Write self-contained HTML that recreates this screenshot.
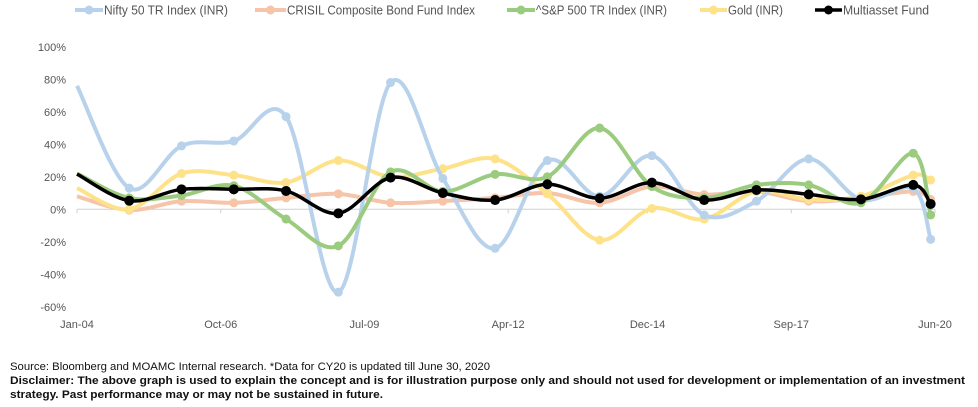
<!DOCTYPE html>
<html><head><meta charset="utf-8"><style>
body{margin:0;background:#fff;}
svg{display:block;font-family:"Liberation Sans",sans-serif;}
</style></head><body>
<svg id="chart" width="978" height="407" viewBox="0 0 978 407" xmlns="http://www.w3.org/2000/svg">
<g id="grid"></g><g id="series"></g><g id="legend"></g>
<text x="10" y="370" font-size="11" fill="#111" textLength="480" lengthAdjust="spacingAndGlyphs">Source: Bloomberg and MOAMC Internal research. *Data for CY20 is updated till June 30, 2020</text>
<text x="10" y="384" font-size="11" fill="#111" font-weight="bold" textLength="955" lengthAdjust="spacingAndGlyphs">Disclaimer: The above graph is used to explain the concept and is for illustration purpose only and should not used for development or implementation of an investment</text>
<text x="10" y="398" font-size="11" fill="#111" font-weight="bold" textLength="373" lengthAdjust="spacingAndGlyphs">strategy. Past performance may or may not be sustained in future.</text>
</svg>
<script>
const months=[0,12,24,36,48,60,72,84,96,108,120,132,144,156,168,180,192,196];
const nifty=[76,13,39,42,57,-51,78,19,-24,30,8,33,-3.5,5,31,6,13,-18.5];
const crisil=[8,-0.5,5,4,7,9.5,4,5,7,10,4,14,9,11,5,7,11,6];
const sp500=[22,7,8.5,14.5,-6,-22.5,23,11,21.5,20,50,14,7,15,15,4,34.5,-3.5];
const gold=[13,0,22,21,16.5,30,20,25,31,9.5,-19,0.5,-6,11,6,8,21,18];
const multi=[21.7,5.3,12.3,12.3,11.3,-2.5,19.5,10,5.7,15.4,6.8,16.4,5.7,11.9,9.2,6.1,15,3.3];
const yTicks=[100,80,60,40,20,0,-20,-40,-60];
const xLabels=["Jan-04","Oct-06","Jul-09","Apr-12","Dec-14","Sep-17","Jun-20"];
const xLabelMonths=[0,33,66,99,131,164,197];
const seriesNames=["Nifty 50 TR Index (INR)","CRISIL Composite Bond Fund Index","^S&P 500 TR Index (INR)","Gold (INR)","Multiasset Fund"];

const NS="http://www.w3.org/2000/svg";
const X0=77,PXM=(935-77)/197,Y0=209.3,PXP=1.625;
const xs=m=>X0+m*PXM, ys=v=>Y0-v*PXP;
function el(t,a,p){const e=document.createElementNS(NS,t);for(const k in a)e.setAttribute(k,a[k]);p.appendChild(e);return e;}
const grid=document.getElementById('grid'),ser=document.getElementById('series'),leg=document.getElementById('legend');
yTicks.forEach(v=>{const t=el('text',{x:66,y:ys(v)+4,'font-size':11,fill:'#555','text-anchor':'end'},grid);t.textContent=v+'%';

});
const ax=el('line',{x1:X0,x2:935,y1:Y0,y2:Y0,stroke:'#d0d0d0','stroke-width':1},grid);


xLabels.forEach((l,i)=>{const x=xs(xLabelMonths[i]);
el('line',{x1:x,x2:x,y1:Y0,y2:Y0+4,stroke:'#d0d0d0'},grid);
const t=el('text',{x:x,y:328,'font-size':11,fill:'#555','text-anchor':'middle'},grid);t.textContent=l;

});
function path(vals){const p=vals.map((v,i)=>[xs(months[i]),ys(v)]);let d='M'+p[0][0]+','+p[0][1];
for(let i=0;i<p.length-1;i++){const a=p[i-1]||p[i],b=p[i],c=p[i+1],e=p[i+2]||c,k=6;
d+=' C'+(b[0]+(c[0]-a[0])/k)+','+(b[1]+(c[1]-a[1])/k)+' '+(c[0]-(e[0]-b[0])/k)+','+(c[1]-(e[1]-b[1])/k)+' '+c[0]+','+c[1];}return d;}
const cfg=[[nifty,'#b8d2ec',4,'nifty'],[crisil,'#f6c4a9',4,'crisil'],[sp500,'#9acb7e',4,'sp500'],[gold,'#fde289',4,'gold'],[multi,'#000',3.5,'multiasset']];
const order=[1,3,0,2,4];
order.forEach(i=>{const [vals,col,w,n]=cfg[i];const g=el('g',{},ser);


el('path',{d:path(vals),fill:'none',stroke:col,'stroke-width':w,'stroke-linejoin':'round'},g);
vals.forEach((v,j)=>{if(j===0)return;const c=el('circle',{cx:xs(months[j]),cy:ys(v),r:i===4?5:4.5,fill:col},g);

});});
const lx=[75,255,507,700,815];
const lw=[28,31,28,27,27];
const tw=[124,188,131,55,86];
cfg.forEach((c,i)=>{const g=el('g',{},leg);


el('line',{x1:lx[i],x2:lx[i]+lw[i],y1:10,y2:10,stroke:c[1],'stroke-width':c[2]},g);
el('circle',{cx:lx[i]+lw[i]/2,cy:10,r:4.5,fill:c[1]},g);
const t=el('text',{x:lx[i]+lw[i]+1,y:14.5,'font-size':12.5,fill:'#555'},g);t.textContent=seriesNames[i];
t.setAttribute('textLength',tw[i]);t.setAttribute('lengthAdjust','spacingAndGlyphs');});
</script>
</body></html>
